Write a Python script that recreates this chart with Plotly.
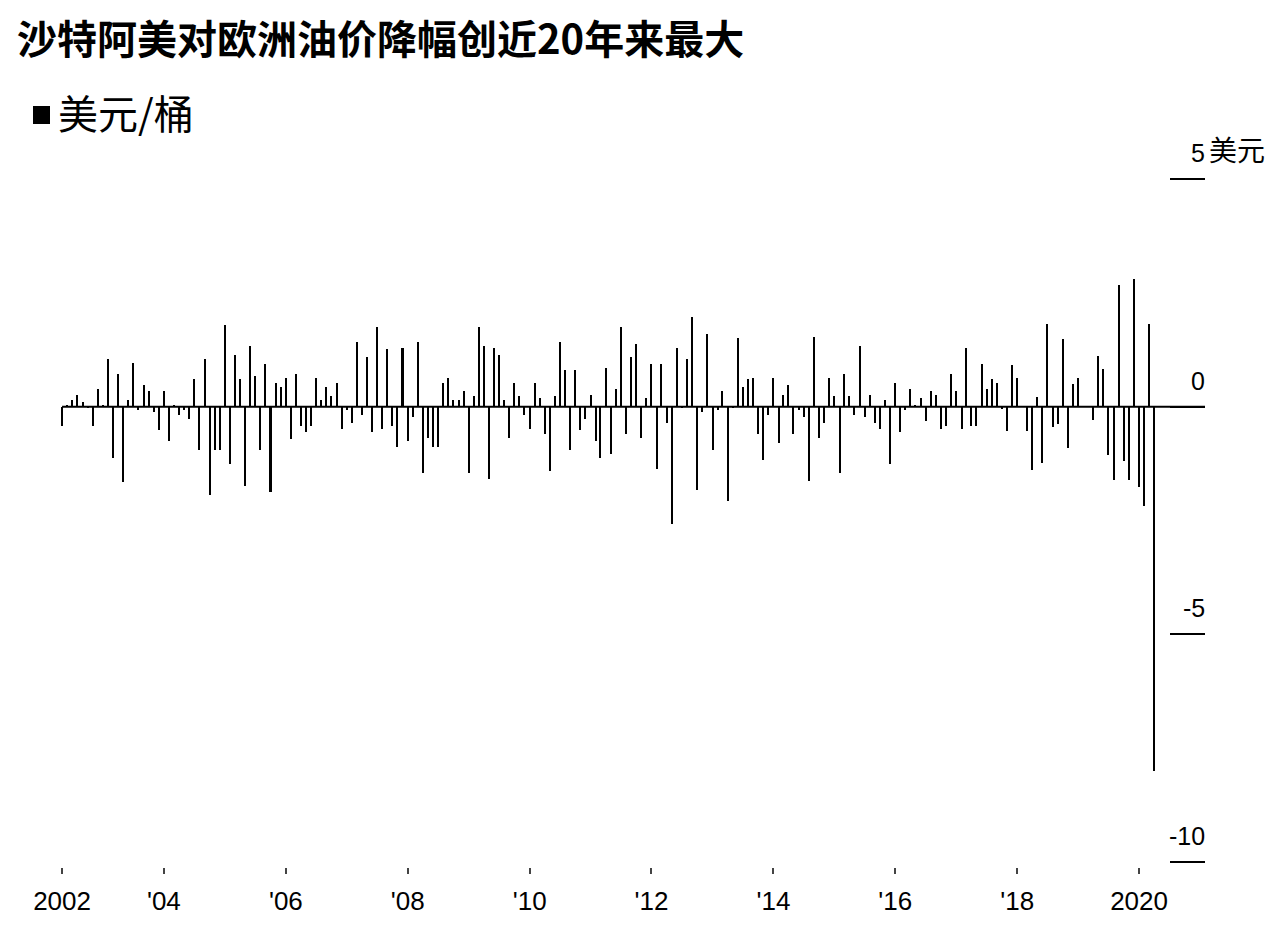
import pandas as pd
import plotly.graph_objects as go

# Monthly change in Saudi Aramco Arab Light OSP to Europe (USD/bbl), May 2002 - Apr 2020
start_month = "2002-05-01"
changes = [
    -0.43, 0.03, 0.15, 0.26, 0.10, -0.02, -0.43, 0.39, 0.02, 1.05, -1.13, 0.72,
    -1.66, 0.15, 0.97, -0.07, 0.48, 0.34, -0.11, -0.52, 0.34, -0.76, 0.02, -0.19,
    -0.07, -0.27, 0.61, -0.96, 1.05, -1.95, -0.96, -0.96, 1.79, -1.25, 1.13, 0.61,
    -1.75, 1.34, 0.68, -0.96, 0.93, -1.88, 0.51, 0.43, 0.64, -0.72, 0.72, -0.43,
    -0.56, -0.43, 0.64, 0.15, 0.43, 0.23, 0.51, -0.48, -0.07, -0.35, 1.42, -0.19,
    1.09, -0.56, 1.75, -0.48, 1.26, -0.43, -0.88, 1.29, -0.76, -0.23, 1.42, -1.45,
    -0.68, -0.88, -0.88, 0.51, 0.64, 0.15, 0.15, 0.34, -1.45, 0.23, 1.75, 1.34,
    -1.59, 1.29, 1.13, 0.15, -0.68, 0.51, 0.23, -0.19, -0.48, 0.51, 0.19, -0.60,
    -1.42, 0.23, 1.42, 0.80, -0.96, 0.80, -0.52, -0.27, 0.26, -0.76, -1.13, 0.84,
    -1.05, 0.39, 1.75, -0.60, 1.09, 1.37, -0.68, 0.19, 0.93, -1.37, 0.93, -0.35,
    -2.57, 1.29, -0.02, 1.05, 1.96, -1.83, -0.11, 1.59, -0.96, -0.07, 0.34, -2.08,
    -0.02, 1.50, 0.43, 0.60, 0.64, -0.60, -1.18, -0.19, 0.64, -0.80, 0.26, 0.48,
    -0.60, -0.07, -0.23, -1.63, 1.54, -0.68, -0.35, 0.64, 0.23, -1.45, 0.72, 0.23,
    -0.19, 1.34, -0.23, 0.26, -0.35, -0.48, 0.15, -1.25, 0.51, -0.56, -0.07, 0.39,
    0.02, 0.19, -0.31, 0.34, 0.26, -0.48, -0.43, 0.72, 0.34, -0.48, 1.29, -0.43,
    -0.43, 0.93, 0.39, 0.60, 0.51, -0.06, -0.54, 0.91, 0.63, 0.01, -0.54, -1.40,
    0.22, -1.24, 1.81, -0.45, -0.37, 1.48, -0.91, 0.50, 0.63, 0.01, 0.01, -0.29,
    1.11, 0.83, -1.07, -1.60, 2.68, -1.19, -1.60, 2.80, -1.77, -2.18, 1.81, -8.00,
]
months = pd.date_range(start_month, periods=len(changes), freq="MS")

x_tick_vals = ["2002-05-01", "2004-01-01", "2006-01-01", "2008-01-01", "2010-01-01",
               "2012-01-01", "2014-01-01", "2016-01-01", "2018-01-01", "2020-01-01"]
x_tick_text = ["2002", "'04", "'06", "'08", "'10", "'12", "'14", "'16", "'18", "2020"]
y_tick_vals = [5, 0, -5, -10]
y_tick_text = ["5", "0", "-5", "-10"]
unit_label = "美元"
title_text = "沙特阿美对欧洲油价降幅创近20年来最大"
subtitle_text = "美元/桶"

NUM_FONT = "Liberation Sans, Arial, sans-serif"
CJK_FONT = "Noto Sans CJK SC, sans-serif"
X_RANGE = ["2001-06-11", "2021-01-30"]

# page offset of the figure (body margin) and plot-area geometry in page pixels
OFF = 8
PX_PER_UNIT = 683 / 15.0
PAD_PX = 5
Y_PAD = PAD_PX / PX_PER_UNIT
PL, PR, PT, PB = 8, 1205, 179 - PAD_PX, 862 + PAD_PX
PW, PH = PR - PL, PB - PT


def px(page_x):
    return (page_x - PL) / PW


def py(page_y):
    return (PB - page_y) / PH


fig = go.Figure()
fig.add_trace(go.Bar(
    x=months, y=changes,
    marker=dict(color="#000000", line=dict(width=0)),
    width=12 * 24 * 3600 * 1000,
    showlegend=False,
    hovertemplate="%{x|%Y-%m}: %{y}<extra></extra>",
))

# zero baseline from the first month to the right edge
fig.add_shape(type="line", xref="x", yref="y", x0=months[0], x1=X_RANGE[1], y0=0, y1=0,
              line=dict(color="#000000", width=2), layer="above")

# y tick labels sitting above the tick marks
for v, t in zip(y_tick_vals, y_tick_text):
    fig.add_annotation(xref="paper", yref="y", x=1.0, y=v, text=t, showarrow=False,
                       xanchor="right", yanchor="bottom", yshift=10, xshift=2,
                       font=dict(family=NUM_FONT, size=25, color="#000000"))
fig.add_annotation(xref="paper", yref="y", x=1.0, y=y_tick_vals[0], text=unit_label,
                   showarrow=False, xanchor="left", yanchor="bottom", xshift=2, yshift=8,
                   font=dict(family=CJK_FONT, size=28, color="#000000"))

# legend-like subtitle
fig.add_shape(type="rect", xref="paper", yref="paper",
              x0=px(33), x1=px(50), y0=py(124), y1=py(106),
              fillcolor="#000000", line=dict(width=0))
fig.add_annotation(xref="paper", yref="paper", x=px(56), y=py(112),
                   text=subtitle_text, showarrow=False, xanchor="left", yanchor="middle",
                   font=dict(family=CJK_FONT, size=40, color="#000000"))

fig.update_layout(
    width=1275, height=930,
    margin=dict(l=PL - OFF, r=1275 - (PR - OFF), t=PT - OFF, b=930 - (PB - OFF)),
    paper_bgcolor="#ffffff", plot_bgcolor="#ffffff",
    title=dict(text="<b>" + title_text + "</b>", x=(17 - OFF) / 1275, xanchor="left",
               y=1 - (40 - OFF) / 930, yanchor="middle", yref="container",
               font=dict(family=CJK_FONT, size=40, color="#000000")),
    bargap=0,
    xaxis=dict(type="date", range=X_RANGE, tickvals=x_tick_vals, ticktext=x_tick_text,
               ticks="outside", ticklen=6, tickwidth=1.5, tickcolor="#444444",
               showgrid=False, zeroline=False, showline=False,
               tickfont=dict(family=NUM_FONT, size=26, color="#000000"),
               ticklabelstandoff=5),
    yaxis=dict(range=[-10 - Y_PAD, 5 + Y_PAD], side="right", tickvals=y_tick_vals,
               ticks="inside", ticklen=35, tickwidth=2, tickcolor="#000000",
               showticklabels=False, showgrid=False, zeroline=False, showline=False),
)

fig.write_html("out.html")
